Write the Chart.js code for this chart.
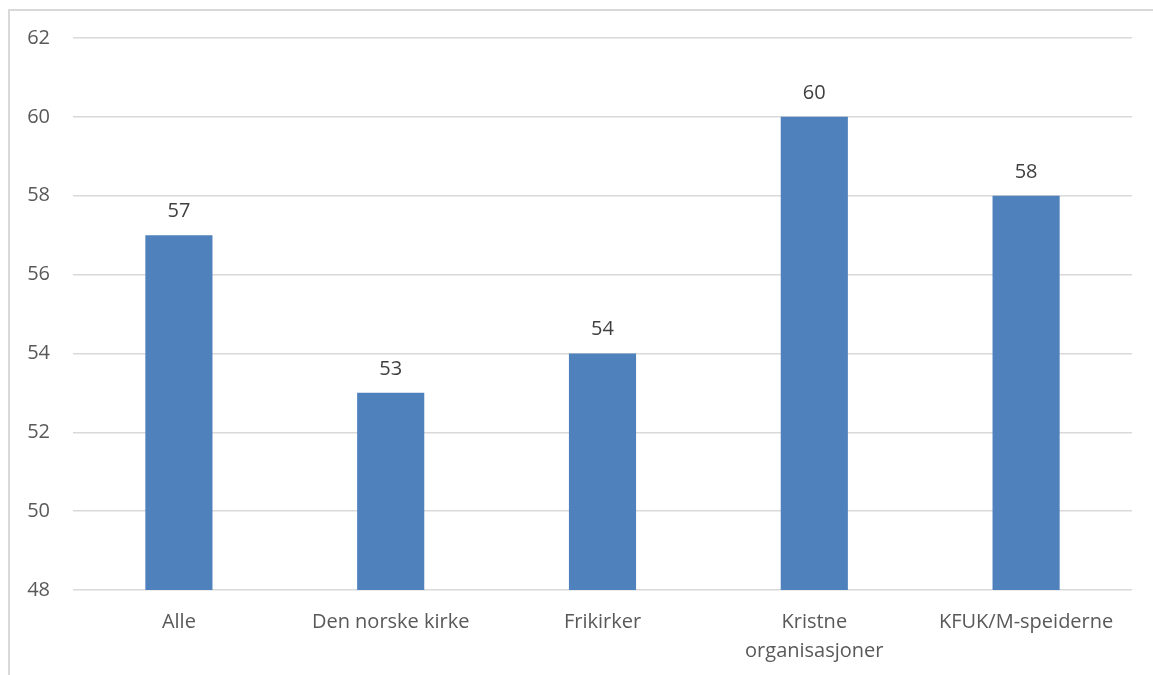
<!DOCTYPE html>
<html>
<head>
<meta charset="utf-8">
<script src="https://cdn.jsdelivr.net/npm/chart.js@4/dist/chart.umd.min.js"></script>
<style>
  html, body { margin: 0; padding: 0; background: #fff; overflow: hidden; }
  #frame {
    position: absolute; left: 8px; top: 9px;
    width: 1300px; height: 800px;
    border: 2px solid #d9d9d9;
  }
  #wrap { position: absolute; left: 0; top: 0; width: 1153px; height: 675px; }
</style>
</head>
<body>
<div id="frame"></div>
<div id="wrap"><canvas id="chart"></canvas></div>
<script>
/* chart data */
const categories = ["Alle", "Den norske kirke", "Frikirker", ["Kristne", "organisasjoner"], "KFUK/M-speiderne"];
const values = [57, 53, 54, 60, 58];
const yMin = 48;
const yMax = 62;
const yStep = 2;

const FONT = "'Open Sans', 'Noto Sans', sans-serif";
const TEXT = "#595959";

// value labels above each bar
const barLabels = {
  id: "barLabels",
  afterDatasetsDraw(chart) {
    const ctx = chart.ctx;
    const meta = chart.getDatasetMeta(0);
    ctx.save();
    ctx.font = "20px " + FONT;
    ctx.fillStyle = "#404040";
    ctx.textAlign = "center";
    ctx.textBaseline = "alphabetic";
    meta.data.forEach((bar, i) => {
      ctx.fillText(values[i], bar.x, bar.y - 18);
    });
    ctx.restore();
  }
};

new Chart(document.getElementById("chart"), {
  type: "bar",
  data: {
    labels: categories,
    datasets: [{
      data: values,
      backgroundColor: "#4f81bd",
      categoryPercentage: 1,
      barPercentage: 0.317
    }]
  },
  options: {
    responsive: true,
    maintainAspectRatio: false,
    animation: false,
    layout: { padding: { left: 0, right: 21, top: 38, bottom: 0 } },
    plugins: {
      legend: { display: false },
      tooltip: { enabled: false }
    },
    scales: {
      x: {
        grid: { display: false },
        border: { display: false },
        ticks: { color: TEXT, font: { family: FONT, size: 20, lineHeight: 1.45 }, padding: 10, maxRotation: 0, autoSkip: false },
        afterFit: s => { s.height = 85; }
      },
      y: {
        min: yMin,
        max: yMax,
        grid: { color: "#d9d9d9", lineWidth: 1.5, drawTicks: false },
        border: { display: false },
        ticks: { stepSize: yStep, color: TEXT, font: { family: FONT, size: 20 }, padding: 23 },
        afterFit: s => { s.width = 73; }
      }
    }
  },
  plugins: [barLabels]
});
</script>
</body>
</html>
